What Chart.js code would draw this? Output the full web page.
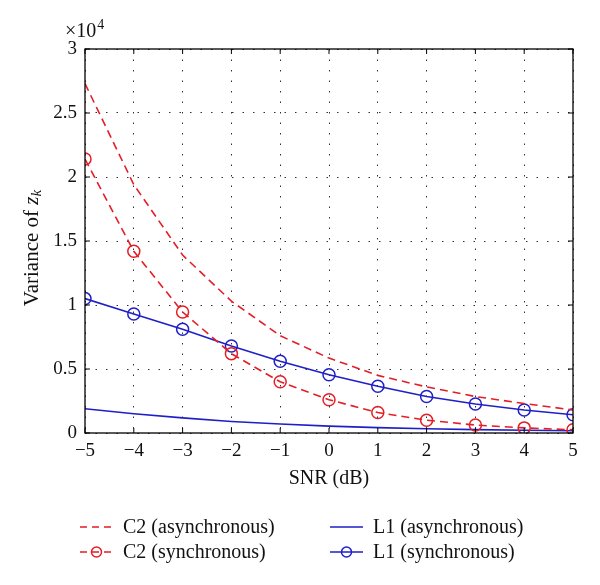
<!DOCTYPE html>
<html lang="en">

<head>
    <meta charset="UTF-8">
    <title>Variance of z_k vs SNR</title>
    <script src="https://cdn.jsdelivr.net/npm/chart.js"></script>
    <style>
        body { margin: 0; background: #fff; }
        #wrap { position: relative; width: 600px; height: 585px; }
        #legend { position: absolute; left: 0; top: 514px; width: 600px; font: 20px "Liberation Serif", serif; color: #111; }
        .item { position: absolute; display: flex; align-items: center; height: 25px; }
        .item canvas { margin-right: 10px; }
    </style>
</head>

<body>
    <div id="wrap">
        <canvas id="varChart" width="600" height="585"></canvas>
        <div id="legend"></div>
    </div>

    <script>
        // SNR values (dB)
        const snr = [-5, -4, -3, -2, -1, 0, 1, 2, 3, 4, 5];

        // variance values
        const c2Async = [27300, 19400, 13900, 10300, 7600, 5850, 4500, 3600, 2850, 2300, 1800];
        const c2Sync  = [21400, 14200, 9450, 6200, 4000, 2600, 1600, 1000, 620, 400, 250];
        const l1Async = [1900, 1500, 1180, 900, 700, 540, 420, 330, 260, 210, 170];
        const l1Sync  = [10500, 9300, 8100, 6800, 5600, 4550, 3650, 2850, 2270, 1800, 1420];

        const yTicks = [0, 5000, 10000, 15000, 20000, 25000, 30000];

        const RED = '#e41e26';
        const BLUE = '#1f1fc8';
        const SERIF = '"Liberation Serif", serif';

        const pts = arr => arr.map((v, i) => ({ x: snr[i], y: v }));

        const series = [
            { label: 'C2 (asynchronous)', data: c2Async, color: RED, dash: [8, 5], marker: false },
            { label: 'C2 (synchronous)', data: c2Sync, color: RED, dash: [8, 5], marker: true },
            { label: 'L1 (asynchronous)', data: l1Async, color: BLUE, dash: [], marker: false },
            { label: 'L1 (synchronous)', data: l1Sync, color: BLUE, dash: [], marker: true }
        ];

        // box, inward ticks, y title and exponent
        const decorations = {
            id: 'decorations',
            afterDraw(chart) {
                const { ctx, chartArea: a, scales } = chart;
                ctx.save();
                ctx.strokeStyle = '#000';
                ctx.lineWidth = 1.3;
                ctx.strokeRect(a.left, a.top, a.right - a.left, a.bottom - a.top);
                ctx.lineWidth = 1;
                ctx.beginPath();
                snr.forEach(v => {
                    const x = scales.x.getPixelForValue(v);
                    ctx.moveTo(x, a.bottom); ctx.lineTo(x, a.bottom - 5);
                    ctx.moveTo(x, a.top); ctx.lineTo(x, a.top + 5);
                });
                yTicks.forEach(v => {
                    const y = scales.y.getPixelForValue(v);
                    ctx.moveTo(a.left, y); ctx.lineTo(a.left + 5, y);
                    ctx.moveTo(a.right, y); ctx.lineTo(a.right - 5, y);
                });
                ctx.stroke();

                // y axis title: Variance of z_k
                ctx.fillStyle = '#111';
                ctx.translate(32, 248);
                ctx.rotate(-Math.PI / 2);
                ctx.textBaseline = 'middle';
                const f1 = '21px ' + SERIF, f2 = 'italic 21px ' + SERIF, f3 = 'italic 15px ' + SERIF;
                ctx.font = f1; const w1 = ctx.measureText('Variance of ').width;
                ctx.font = f2; const w2 = ctx.measureText('z').width;
                ctx.font = f3; const w3 = ctx.measureText('k').width;
                let x0 = -(w1 + w2 + w3) / 2;
                ctx.font = f1; ctx.fillText('Variance of ', x0, 0);
                ctx.font = f2; ctx.fillText('z', x0 + w1, 0);
                ctx.font = f3; ctx.fillText('k', x0 + w1 + w2, 5);
                ctx.restore();

                // x10^4 exponent label
                ctx.save();
                ctx.fillStyle = '#111';
                ctx.textBaseline = 'alphabetic';
                ctx.font = '20px ' + SERIF;
                ctx.fillText('\u00d710', 65, 37);
                const w = ctx.measureText('\u00d710').width;
                ctx.font = '14px ' + SERIF;
                ctx.fillText('4', 65 + w + 1, 29);
                ctx.restore();
            }
        };

        const ctx = document.getElementById('varChart').getContext('2d');
        new Chart(ctx, {
            type: 'line',
            data: {
                datasets: series.map(s => ({
                    label: s.label,
                    data: pts(s.data),
                    borderColor: s.color,
                    borderWidth: 1.6,
                    borderDash: s.dash,
                    tension: 0,
                    fill: false,
                    pointRadius: s.marker ? 6 : 0,
                    pointBorderWidth: 1.5,
                    pointBorderColor: s.color,
                    pointBackgroundColor: 'rgba(0,0,0,0)',
                    pointStyle: 'circle'
                }))
            },
            options: {
                responsive: false,
                animation: false,
                layout: { padding: { top: 49, right: 27, bottom: 94, left: 0 } },
                plugins: { legend: { display: false }, tooltip: { enabled: false } },
                scales: {
                    x: {
                        type: 'linear',
                        min: -5, max: 5,
                        afterFit: s => { s.height = 58; },
                        ticks: {
                            stepSize: 1,
                            padding: 7,
                            color: '#111',
                            font: { family: SERIF, size: 19 },
                            callback: v => v < 0 ? '\u2212' + Math.abs(v) : String(v)
                        },
                        grid: { color: '#333', lineWidth: 1, drawTicks: false },
                        border: { display: false, dash: [1.5, 9] },
                        title: {
                            display: true,
                            text: 'SNR (dB)',
                            color: '#111',
                            font: { family: SERIF, size: 20 },
                            padding: { top: 0, bottom: 0 }
                        }
                    },
                    y: {
                        min: 0, max: 30000,
                        afterFit: s => { s.width = 85; },
                        afterBuildTicks: s => { s.ticks = yTicks.map(v => ({ value: v })); },
                        ticks: {
                            padding: 8,
                            color: '#111',
                            font: { family: SERIF, size: 19 },
                            callback: v => String(v / 10000)
                        },
                        grid: { color: '#333', lineWidth: 1, drawTicks: false },
                        border: { display: false, dash: [1.5, 9] }
                    }
                }
            },
            plugins: [decorations]
        });

        // legend in two columns, built from the series list
        const legendEl = document.getElementById('legend');
        const slots = [[80, 0], [80, 25], [330, 0], [330, 25]];
        series.forEach((s, i) => {
            const item = document.createElement('div');
            item.className = 'item';
            item.style.left = slots[i][0] + 'px';
            item.style.top = slots[i][1] + 'px';
            const c = document.createElement('canvas');
            c.width = 33; c.height = 14;
            const g = c.getContext('2d');
            g.strokeStyle = s.color;
            g.lineWidth = 1.6;
            g.setLineDash(s.dash.length ? [7, 5] : []);
            g.beginPath(); g.moveTo(0, 7); g.lineTo(33, 7); g.stroke();
            if (s.marker) {
                g.setLineDash([]);
                g.lineWidth = 1.5;
                g.beginPath(); g.arc(16.5, 7, 5, 0, Math.PI * 2); g.stroke();
            }
            const t = document.createElement('span');
            t.textContent = s.label;
            item.appendChild(c);
            item.appendChild(t);
            legendEl.appendChild(item);
        });
    </script>
</body>

</html>
